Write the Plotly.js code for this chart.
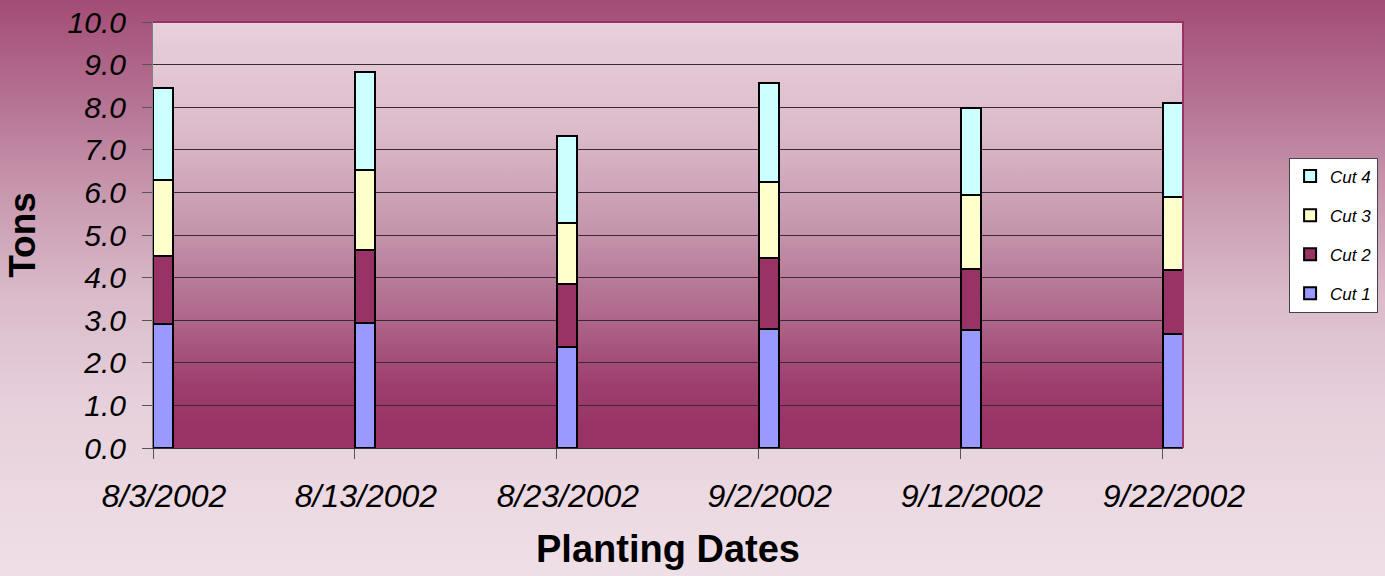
<!DOCTYPE html>
<html>
<head>
<meta charset="utf-8">
<script src="https://cdn.plot.ly/plotly-3.0.1.min.js"></script>
<style>
  html, body { margin: 0; padding: 0; }
  #wrap {
    position: relative; width: 1385px; height: 576px; overflow: hidden;
    background: linear-gradient(to bottom, #a34c75 0%, #b36f90 16%, #c899af 34%, #dabccb 52%, #e6d0db 70%, #ebd8e1 85%, #efdfe7 100%);
  }
  #plotbg {
    position: absolute; left: 153px; top: 22px; width: 1030px; height: 426px;
    background: linear-gradient(to bottom, #e8d0dc 0%, #dcbccb 25%, #c393aa 50%, #ad6689 70%, #9d3f6e 85%, #993366 95%, #993366 100%);
  }
  #chart { position: absolute; left: 0; top: 0; width: 1385px; height: 576px; }
</style>
</head>
<body>
<div id="wrap">
  <div id="plotbg"></div>
  <div id="chart"></div>
</div>
<script>
// Planting dates (x) and tick labels
const plantingDates = ['2002-08-03', '2002-08-13', '2002-08-23', '2002-09-02', '2002-09-12', '2002-09-22'];
const dateLabels = ['8/3/2002', '8/13/2002', '8/23/2002', '9/2/2002', '9/12/2002', '9/22/2002'];

// Yield per cut (tons)
const cut1 = [2.90, 2.94, 2.38, 2.80, 2.76, 2.67];
const cut2 = [1.60, 1.70, 1.46, 1.65, 1.45, 1.50];
const cut3 = [1.78, 1.88, 1.45, 1.79, 1.74, 1.73];
const cut4 = [2.17, 2.31, 2.03, 2.32, 2.02, 2.21];

const seriesNames = ['Cut 1', 'Cut 2', 'Cut 3', 'Cut 4'];
const seriesValues = [cut1, cut2, cut3, cut4];
const seriesColors = ['#9999ff', '#993366', '#ffffcc', '#ccffff'];

const DAY = 86400000;
const FONT = '"Liberation Sans", Arial, sans-serif';

const traces = seriesNames.map((name, i) => ({
  type: 'bar',
  name: name,
  x: plantingDates,
  y: seriesValues[i],
  width: plantingDates.map(() => DAY),
  offset: 0,
  legendgroup: name,
  legendrank: seriesNames.length - i,
  marker: { color: seriesColors[i], line: { color: '#000000', width: 2 } },
  hoverinfo: 'x+y+name'
}));

const layout = {
  width: 1385, height: 576,
  margin: { l: 153, r: 202, t: 22, b: 128, pad: 0, autoexpand: false },
  paper_bgcolor: 'rgba(0,0,0,0)',
  plot_bgcolor: 'rgba(0,0,0,0)',
  barmode: 'stack',
  showlegend: true,
  legend: {
    x: 1.103, xanchor: 'left', y: 0.5, yanchor: 'middle',
    traceorder: 'grouped', tracegroupgap: 14,
    bgcolor: '#ffffff', bordercolor: '#444444', borderwidth: 1,
    font: { family: FONT, size: 17, style: 'italic', color: '#000' }
  },
  xaxis: {
    type: 'date',
    range: ['2002-08-03', '2002-09-23'],
    tickmode: 'array', tickvals: plantingDates, ticktext: dateLabels,
    ticks: 'outside', ticklen: 10, tickcolor: '#555', tickwidth: 1,
    ticklabelstandoff: 10, ticklabelshift: 11,
    showgrid: false, zeroline: false,
    showline: true, linecolor: '#333', linewidth: 1,
    tickfont: { family: FONT, size: 32, style: 'italic', color: '#000' },
    title: { text: 'Planting Dates', font: { family: FONT, size: 38, weight: 'bold', color: '#000' }, standoff: 21 },
    fixedrange: true
  },
  yaxis: {
    range: [0, 10], dtick: 1, tick0: 0, tickformat: '.1f',
    ticks: 'outside', ticklen: 10, tickcolor: '#555', tickwidth: 1,
    ticklabelstandoff: 10,
    showgrid: true, gridcolor: '#3a2a32', gridwidth: 1,
    zeroline: false,
    showline: true, linecolor: '#808080', linewidth: 1,
    tickfont: { family: FONT, size: 30, style: 'italic', color: '#000' },
    title: { text: 'Tons', font: { family: FONT, size: 37, weight: 'bold', color: '#000' }, standoff: 20 },
    fixedrange: true
  },
  shapes: [{
    type: 'path', xref: 'paper', yref: 'paper',
    path: 'M 0 1 L 1 1 L 1 0',
    line: { color: '#993366', width: 2 }, layer: 'above'
  }]
};

Plotly.newPlot('chart', traces, layout, { displayModeBar: false, staticPlot: true });
</script>
</body>
</html>
